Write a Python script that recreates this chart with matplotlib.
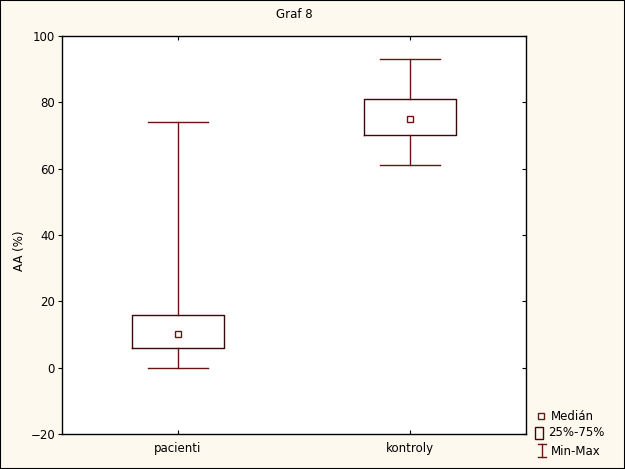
import matplotlib
matplotlib.use("Agg")
import matplotlib.pyplot as plt
from matplotlib.patches import Rectangle
from matplotlib.lines import Line2D

# data
skupiny = ["pacienti", "kontroly"]
minima = [0, 61]
q1 = [6, 70]
mediany = [10, 75]
q3 = [16, 81]
maxima = [74, 93]

bg = "#FDF9EE"
tmava = "#6B1414"

fig = plt.figure(figsize=(6.25, 4.69), dpi=100, facecolor=bg)
ax = fig.add_axes([62 / 625, 35 / 469, 464 / 625, 398 / 469])
ax.set_facecolor("white")

stats = []
for i, name in enumerate(skupiny):
    stats.append(dict(label=name, whislo=minima[i], q1=q1[i], med=mediany[i],
                      q3=q3[i], whishi=maxima[i]))
pos = [1, 2]
ax.bxp(stats, positions=pos, widths=0.4, capwidths=0.26, showfliers=False,
       boxprops=dict(color="#3a0a0a", linewidth=1),
       whiskerprops=dict(color=tmava, linewidth=1),
       capprops=dict(color=tmava, linewidth=1),
       medianprops=dict(linestyle="none"))
ax.plot(pos, mediany, "s", ms=4, mfc="white", mec=tmava, mew=1, linestyle="none")

ax.set_xlim(0.5, 2.5)
ax.set_ylim(-20, 100)
ax.set_yticks(range(-20, 101, 20))
ax.set_xticks(pos)
ax.set_xticklabels(skupiny)
ax.tick_params(axis="y", direction="out", length=3, labelsize=8.5, pad=2,
               right=True)
ax.tick_params(axis="x", direction="in", length=3, labelsize=8.5, top=True, pad=6)
# right ticks inward
for t in ax.yaxis.get_major_ticks():
    t.tick2line.set_marker(matplotlib.lines.TICKLEFT)
for s in ax.spines.values():
    s.set_linewidth(1)
ax.set_ylabel("AA (%)", fontsize=8.5)
ax.yaxis.set_label_coords(-36 / 464, 0.46)
ax.set_title("Graf 8", fontsize=8.5, pad=13)

# legend drawn by hand in pixel coords
def px(x, y):
    return x / 625, 1 - y / 469

tr = fig.transFigure
fig.add_artist(Line2D([px(541, 416)[0]], [px(541, 416)[1]], marker="s", ms=4,
                      mfc="white", mec=tmava, mew=1, transform=tr))
x0, y0 = px(535, 439)
fig.add_artist(Rectangle((x0, y0), 8 / 625, 12 / 469, fill=False,
                         ec="#3a0a0a", lw=1, transform=tr))
fig.add_artist(Line2D([px(542, 0)[0]] * 2, [px(0, 444)[1], px(0, 457)[1]],
                      color=tmava, lw=1, transform=tr))
fig.add_artist(Line2D([px(538, 0)[0], px(546, 0)[0]], [px(0, 444)[1]] * 2,
                      color=tmava, lw=1, transform=tr))
fig.add_artist(Line2D([px(538, 0)[0], px(546, 0)[0]], [px(0, 457)[1]] * 2,
                      color=tmava, lw=1, transform=tr))
for txt, x, y in [("Medián", 551, 416), ("25%-75%", 548, 433),
                  ("Min-Max", 551, 451)]:
    fig.text(*px(x, y), txt, fontsize=8.5, va="center", ha="left")

# frame around whole figure
fig.add_artist(Rectangle((0, 0), 1, 1, fill=False, ec="black", lw=1.5,
                         transform=tr))

fig.savefig("out.png", dpi=100, facecolor=bg)
